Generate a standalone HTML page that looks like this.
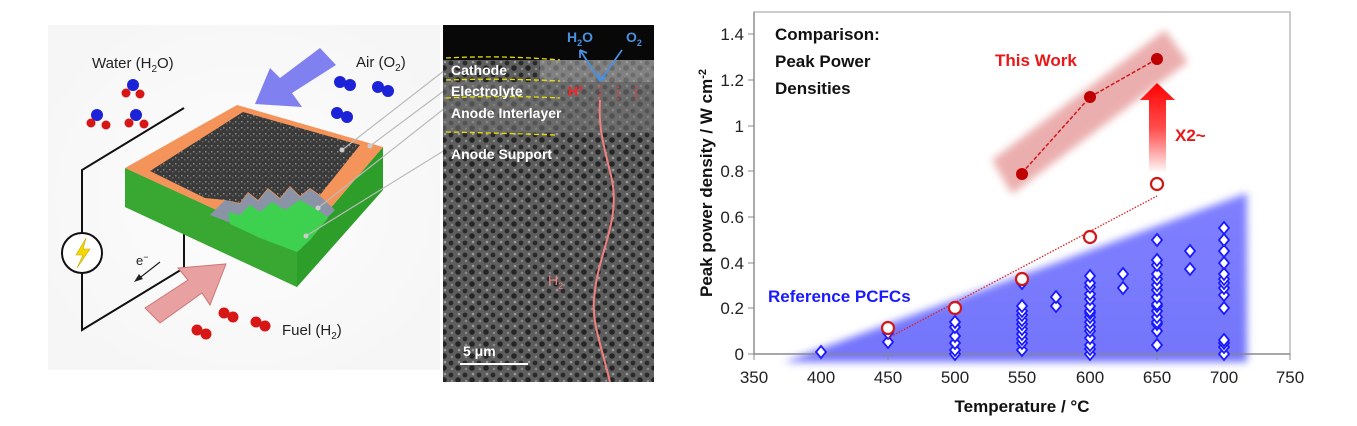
<!DOCTYPE html>
<html><head><meta charset="utf-8"><style>
html,body{margin:0;padding:0;background:#fff;}
svg{display:block;font-family:"Liberation Sans",sans-serif;}
</style></head><body>
<svg width="1357" height="426" viewBox="0 0 1357 426" xmlns="http://www.w3.org/2000/svg">
<defs>
<radialGradient id="bg" cx="0.5" cy="0.5" r="0.6"><stop offset="0" stop-color="#fdfdfd"/><stop offset="1" stop-color="#f6f6f6"/></radialGradient>
<linearGradient id="arr" x1="0" y1="1" x2="0" y2="0"><stop offset="0" stop-color="#ff0000" stop-opacity="0"/><stop offset="0.5" stop-color="#ff2020" stop-opacity="0.8"/><stop offset="1" stop-color="#ff0000"/></linearGradient>
<linearGradient id="tri" x1="0" y1="0" x2="0" y2="1"><stop offset="0" stop-color="#7f80ff"/><stop offset="1" stop-color="#7375fb"/></linearGradient>
<filter id="blur"><feGaussianBlur stdDeviation="4"/></filter>
<filter id="blur2"><feGaussianBlur stdDeviation="4"/></filter>
<pattern id="sem" width="14" height="12" patternUnits="userSpaceOnUse">
<rect width="14" height="12" fill="#5e5e5e"/><circle cx="3" cy="3" r="2.4" fill="#2a2a2a"/><circle cx="10" cy="8" r="2.8" fill="#252525"/><circle cx="11" cy="2" r="1.3" fill="#9a9a9a"/><circle cx="4" cy="9" r="1.2" fill="#8c8c8c"/></pattern>
<pattern id="cath" width="6" height="6" patternUnits="userSpaceOnUse"><rect width="6" height="6" fill="#3a3a3a"/><rect x="1" y="1" width="1.5" height="1.5" fill="#8a8a8a"/><rect x="4" y="3" width="1.5" height="1.5" fill="#6a6a6a"/></pattern>
<path id="d" d="M0,-6 l5,6 l-5,6 l-5,-6z"/>
</defs>

<!-- LEFT illustration -->
<rect x="48" y="25" width="392" height="345" fill="url(#bg)"/>
<polyline points="184,108 82,170 82,330 184,268 184,160" fill="none" stroke="#111" stroke-width="2"/>
<circle cx="82" cy="253" r="20" fill="#fff" stroke="#111" stroke-width="2"/>
<polygon points="86,238 76,255 83,255 77,268 90,249 83,249" fill="#f5d800" stroke="#c9a600" stroke-width="0.6"/>
<text x="136" y="265" font-size="13" fill="#222">e<tspan dy="-5" font-size="9">−</tspan></text>
<line x1="160" y1="262" x2="137" y2="280" stroke="#222" stroke-width="1.2"/><polygon points="134,282 139,274 143,279" fill="#222"/>
<polygon points="320,48 336,65 292,93 302,107 255,104 270,68 280,78" fill="#8080f0"/>
<polygon points="145,308 188,280 178,268 226,264 210,305 202,293 160,323" fill="#e8a0a0" stroke="#c77" stroke-width="1"/>
<polygon points="125,168 125,207 297,287 383,190 383,147 297,247" fill="#2e9e2a"/>
<polygon points="125,168 297,247 297,287 125,207" fill="#38a832"/>
<polygon points="125,168 237,105 383,147 297,247" fill="#f4945a"/>
<polygon points="150,171 243,112 360,145 320,195 310,188 300,196 290,186 280,198 268,188 258,200 248,192 240,203 225,200 205,198" fill="url(#cath)"/>
<polygon points="225,200 240,204 248,193 258,201 268,189 280,199 290,187 300,197 310,189 320,196 335,210 315,230 300,250 260,234 210,215" fill="#8a94a6"/>
<polygon points="228,212 240,215 250,205 260,212 272,202 285,210 300,200 318,210 328,218 310,240 297,252 260,238 230,224" fill="#3ed14f"/>
<g stroke="#bbb" stroke-width="1.2" fill="none">
<line x1="342" y1="150" x2="445" y2="70"/><line x1="370" y1="146" x2="445" y2="90"/><line x1="318" y1="208" x2="445" y2="108"/><line x1="306" y1="236" x2="445" y2="150"/></g>
<g fill="#ccc"><circle cx="342" cy="150" r="2.5"/><circle cx="370" cy="146" r="2.5"/><circle cx="318" cy="208" r="2.5"/><circle cx="306" cy="236" r="2.5"/></g>
<g>
<circle cx="133" cy="85" r="6" fill="#1c22d8"/><circle cx="126" cy="93" r="4.5" fill="#d71616"/><circle cx="140" cy="94" r="4.5" fill="#d71616"/>
<circle cx="97" cy="115" r="6" fill="#1c22d8"/><circle cx="91" cy="123" r="4.5" fill="#d71616"/><circle cx="106" cy="125" r="4.5" fill="#d71616"/>
<circle cx="136" cy="115" r="6" fill="#1c22d8"/><circle cx="129" cy="123" r="4.5" fill="#d71616"/><circle cx="144" cy="124" r="4.5" fill="#d71616"/>
<circle cx="340" cy="82" r="6" fill="#1c22d8"/><circle cx="350" cy="85" r="6" fill="#1c22d8"/>
<circle cx="378" cy="87" r="6" fill="#1c22d8"/><circle cx="388" cy="91" r="6" fill="#1c22d8"/>
<circle cx="337" cy="113" r="6" fill="#1c22d8"/><circle cx="347" cy="117" r="6" fill="#1c22d8"/>
<circle cx="224" cy="313" r="5.5" fill="#d71616"/><circle cx="233" cy="317" r="5.5" fill="#d71616"/>
<circle cx="256" cy="322" r="5.5" fill="#d71616"/><circle cx="265" cy="326" r="5.5" fill="#d71616"/>
<circle cx="197" cy="330" r="5.5" fill="#d71616"/><circle cx="206" cy="334" r="5.5" fill="#d71616"/>
</g>
<text x="92" y="68" font-size="15" fill="#222">Water (H<tspan font-size="10" dy="4">2</tspan><tspan dy="-4">O)</tspan></text>
<text x="356" y="67" font-size="15" fill="#222">Air (O<tspan font-size="10" dy="4">2</tspan><tspan dy="-4">)</tspan></text>
<text x="282" y="335" font-size="15" fill="#222">Fuel (H<tspan font-size="10" dy="4">2</tspan><tspan dy="-4">)</tspan></text>

<!-- SEM panel -->
<rect x="443" y="25" width="211" height="357" fill="url(#sem)"/>
<rect x="443" y="25" width="211" height="35" fill="#080808"/>
<rect x="540" y="60" width="114" height="22" fill="#9a9a9a" opacity="0.6"/>
<rect x="443" y="82" width="211" height="50" fill="#777" opacity="0.55"/>
<g stroke="#e8e000" stroke-width="1.3" stroke-dasharray="5,3" fill="none">
<path d="M446,58 Q500,55 560,60"/><path d="M446,80 Q500,78 560,81"/><path d="M446,98 Q500,95 560,98"/><path d="M446,132 Q500,133 555,135"/></g>
<text x="567" y="42" font-size="14" fill="#4a90e0" font-weight="bold">H<tspan font-size="9" dy="4">2</tspan><tspan dy="-4">O</tspan></text>
<text x="626" y="42" font-size="14" fill="#4a90e0" font-weight="bold">O<tspan font-size="9" dy="4">2</tspan></text>
<g stroke="#4a90e0" stroke-width="1.8" fill="none"><path d="M600,81 L580,50 M580,50 l0,8 M580,50 l7,3"/><path d="M600,81 L622,50 M600,81 l-1,-8 M600,81 l6,-4"/></g>
<text x="451" y="75" font-size="14" font-weight="bold" fill="#fff">Cathode</text>
<text x="451" y="96" font-size="14" font-weight="bold" fill="#fff">Electrolyte</text>
<text x="568" y="96" font-size="14" font-weight="bold" fill="#f22">H<tspan font-size="9" dy="-5">+</tspan></text>
<text x="451" y="118" font-size="14" font-weight="bold" fill="#fff">Anode Interlayer</text>
<text x="451" y="159" font-size="14" font-weight="bold" fill="#fff">Anode Support</text>
<g stroke="#f33" stroke-width="1.3" stroke-dasharray="2,2"><line x1="600" y1="100" x2="600" y2="85"/><line x1="618" y1="100" x2="618" y2="85"/><line x1="636" y1="100" x2="636" y2="85"/></g>
<path d="M610,382 C600,340 590,320 595,290 C600,250 620,220 612,180 C605,150 598,130 600,100" fill="none" stroke="#f08080" stroke-width="2"/>
<text x="548" y="285" font-size="14" fill="#f08080">H<tspan font-size="9" dy="4">2</tspan></text>
<text x="463" y="356" font-size="14" font-weight="bold" fill="#fff">5 μm</text>
<line x1="460" y1="364" x2="528" y2="364" stroke="#fff" stroke-width="2"/>

<!-- CHART -->
<rect x="754" y="12" width="536" height="342" fill="#fff" stroke="#bbb" stroke-width="1.5"/>
<polygon points="784,362 1247,193 1247,362" fill="url(#tri)" filter="url(#blur)"/>
<line x1="754" y1="354" x2="1290" y2="354" stroke="#888" stroke-width="1.2"/>
<line x1="754" y1="12" x2="754" y2="354" stroke="#888" stroke-width="1.2"/>
<g stroke="#888" stroke-width="1">
<line x1="754" y1="354" x2="754" y2="360"/><line x1="821" y1="354" x2="821" y2="360"/><line x1="888" y1="354" x2="888" y2="360"/><line x1="955" y1="354" x2="955" y2="360"/><line x1="1022" y1="354" x2="1022" y2="360"/><line x1="1090" y1="354" x2="1090" y2="360"/><line x1="1157" y1="354" x2="1157" y2="360"/><line x1="1224" y1="354" x2="1224" y2="360"/><line x1="1290" y1="354" x2="1290" y2="360"/>
<line x1="748" y1="354" x2="754" y2="354"/><line x1="748" y1="308" x2="754" y2="308"/><line x1="748" y1="263" x2="754" y2="263"/><line x1="748" y1="217" x2="754" y2="217"/><line x1="748" y1="171" x2="754" y2="171"/><line x1="748" y1="126" x2="754" y2="126"/><line x1="748" y1="80" x2="754" y2="80"/><line x1="748" y1="34" x2="754" y2="34"/>
</g>
<g font-size="17" fill="#222" text-anchor="end">
<text x="744" y="360">0</text><text x="744" y="314">0.2</text><text x="744" y="269">0.4</text><text x="744" y="223">0.6</text><text x="744" y="177">0.8</text><text x="744" y="132">1</text><text x="744" y="86">1.2</text><text x="744" y="40">1.4</text></g>
<g font-size="17" fill="#222" text-anchor="middle">
<text x="754" y="383">350</text><text x="821" y="383">400</text><text x="888" y="383">450</text><text x="955" y="383">500</text><text x="1022" y="383">550</text><text x="1090" y="383">600</text><text x="1157" y="383">650</text><text x="1224" y="383">700</text><text x="1290" y="383">750</text></g>
<text x="1022" y="412" font-size="17" font-weight="bold" text-anchor="middle" fill="#111">Temperature / °C</text>
<text transform="translate(712,183) rotate(-90)" font-size="17" font-weight="bold" text-anchor="middle" fill="#111">Peak power density / W cm<tspan font-size="11" dy="-6">-2</tspan></text>

<text x="775" y="40" font-size="17" font-weight="bold" fill="#111">Comparison:</text>
<text x="775" y="67" font-size="17" font-weight="bold" fill="#111">Peak Power</text>
<text x="775" y="94" font-size="17" font-weight="bold" fill="#111">Densities</text>
<text x="768" y="302" font-size="17" font-weight="bold" fill="#1a1aff">Reference PCFCs</text>
<text x="995" y="66" font-size="17" font-weight="bold" fill="#e81818">This Work</text>
<text x="1175" y="141" font-size="17" font-weight="bold" fill="#e81818">X2~</text>

<g fill="#fff" stroke="#1a1aff" stroke-width="1.8">
<use href="#d" x="821" y="352"/>
<use href="#d" x="888" y="342"/><use href="#d" x="888" y="333"/>
<use href="#d" x="955" y="354"/><use href="#d" x="955" y="350"/><use href="#d" x="955" y="343"/><use href="#d" x="955" y="336"/><use href="#d" x="955" y="327"/><use href="#d" x="955" y="322"/>
<use href="#d" x="1022" y="350"/><use href="#d" x="1022" y="343"/><use href="#d" x="1022" y="339"/><use href="#d" x="1022" y="334"/><use href="#d" x="1022" y="329"/><use href="#d" x="1022" y="324"/><use href="#d" x="1022" y="320"/><use href="#d" x="1022" y="315"/><use href="#d" x="1022" y="311"/><use href="#d" x="1022" y="306"/><use href="#d" x="1022" y="283"/>
<use href="#d" x="1056" y="306"/><use href="#d" x="1056" y="297"/>
<use href="#d" x="1090" y="354"/><use href="#d" x="1090" y="349"/><use href="#d" x="1090" y="345"/><use href="#d" x="1090" y="338"/><use href="#d" x="1090" y="331"/><use href="#d" x="1090" y="327"/><use href="#d" x="1090" y="322"/><use href="#d" x="1090" y="317"/><use href="#d" x="1090" y="313"/><use href="#d" x="1090" y="311"/><use href="#d" x="1090" y="306"/><use href="#d" x="1090" y="299"/><use href="#d" x="1090" y="294"/><use href="#d" x="1090" y="287"/><use href="#d" x="1090" y="283"/><use href="#d" x="1090" y="276"/>
<use href="#d" x="1123" y="288"/><use href="#d" x="1123" y="274"/>
<use href="#d" x="1157" y="345"/><use href="#d" x="1157" y="331"/><use href="#d" x="1157" y="324"/><use href="#d" x="1157" y="322"/><use href="#d" x="1157" y="317"/><use href="#d" x="1157" y="311"/><use href="#d" x="1157" y="306"/><use href="#d" x="1157" y="304"/><use href="#d" x="1157" y="297"/><use href="#d" x="1157" y="290"/><use href="#d" x="1157" y="285"/><use href="#d" x="1157" y="279"/><use href="#d" x="1157" y="274"/><use href="#d" x="1157" y="265"/><use href="#d" x="1157" y="260"/><use href="#d" x="1157" y="240"/>
<use href="#d" x="1190" y="269"/><use href="#d" x="1190" y="251"/>
<use href="#d" x="1224" y="354"/><use href="#d" x="1224" y="347"/><use href="#d" x="1224" y="343"/><use href="#d" x="1224" y="340"/><use href="#d" x="1224" y="308"/><use href="#d" x="1224" y="295"/><use href="#d" x="1224" y="288"/><use href="#d" x="1224" y="283"/><use href="#d" x="1224" y="279"/><use href="#d" x="1224" y="274"/><use href="#d" x="1224" y="263"/><use href="#d" x="1224" y="251"/><use href="#d" x="1224" y="240"/><use href="#d" x="1224" y="228"/>
</g>
<line x1="888" y1="338" x2="1157" y2="196" stroke="#e02020" stroke-width="1.3" stroke-dasharray="1.5,1.5"/>
<g fill="#fff" stroke="#d01818" stroke-width="2.2">
<circle cx="888" cy="328" r="6"/><circle cx="955" cy="308" r="6"/><circle cx="1022" cy="279" r="6"/><circle cx="1090" cy="237" r="6"/><circle cx="1157" cy="184" r="6"/></g>
<polygon points="992,160 1165,30 1188,62 1012,194" fill="#e8a0a0" opacity="0.85" filter="url(#blur2)"/>
<polyline points="1022,173 1090,97 1157,59" fill="none" stroke="#d01818" stroke-width="1.5" stroke-dasharray="4,2"/>
<g fill="#c00000"><circle cx="1022" cy="174" r="6"/><circle cx="1090" cy="97" r="6"/><circle cx="1157" cy="59" r="6"/></g>
<polygon points="1149,173 1149,100 1140,100 1157,83 1175,100 1166,100 1166,173" fill="url(#arr)"/>
</svg>
</body></html>
